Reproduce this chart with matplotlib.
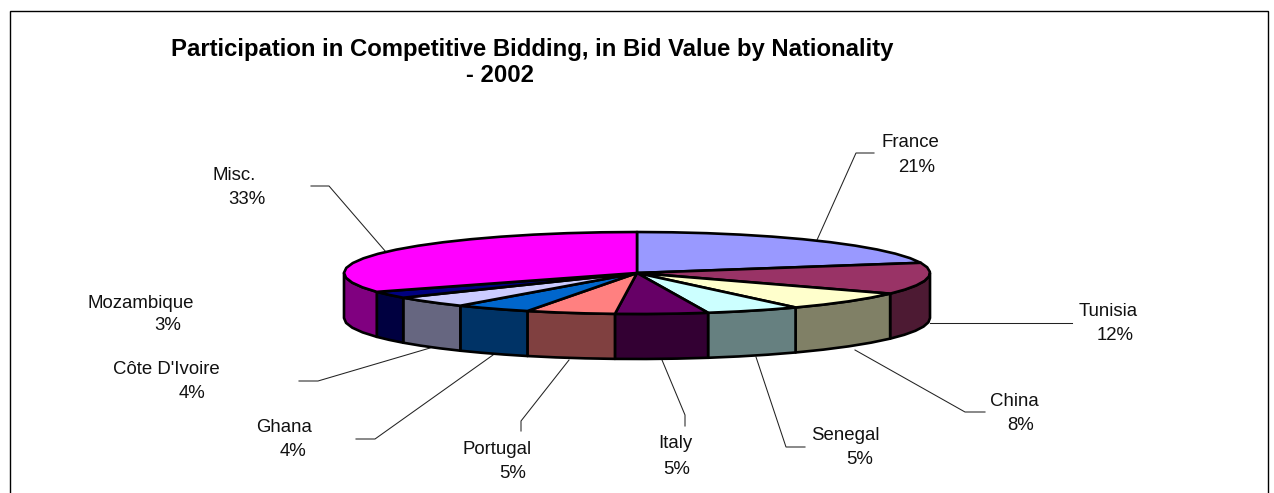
import numpy as np
import matplotlib
matplotlib.use('Agg')
import matplotlib.pyplot as plt
from matplotlib.patches import Polygon, Rectangle

plt.rcParams['font.family'] = ['Liberation Sans', 'DejaVu Sans']

categories = ['France', 'Tunisia', 'China', 'Senegal', 'Italy', 'Portugal', 'Ghana',
              "Côte D'Ivoire", 'Mozambique', 'Misc.']
shares = [21.0, 12.4, 7.5, 5.2, 5.1, 4.9, 4.2, 4.4, 2.7, 32.6]
top_colors = ['#9999FF', '#993366', '#FFFFCC', '#CCFFFF', '#660066', '#FF8080', '#0066CC',
              '#CCCCFF', '#000080', '#FF00FF']
side_colors = ['#4D4D80', '#4D1A33', '#808066', '#668080', '#330033', '#804040', '#003366',
               '#666680', '#000040', '#800080']

# label centres, pixels
name_pos = [(910, 140.5), (1108, 309), (1014, 399), (845, 433), (675, 442), (497.5, 447),
            (284, 426), (166, 367), (141, 301), (234.5, 173)]
pct_pos = [(917, 165), (1115, 334), (1021, 424), (860, 458), (677, 467), (513, 472),
           (293, 449), (192, 392), (168, 324), (247, 198)]
leaders = [[(874, 153), (856, 153), (817, 240)],
           [(1072, 323), (930, 323)],
           [(985, 412), (965, 412), (855, 350)],
           [(805, 447), (786, 447), (756, 357)],
           [(685, 426), (685, 415), (662, 360)],
           [(521, 431), (521, 421), (569, 360)],
           [(356, 439), (375, 439), (493, 355)],
           [(299, 381), (318, 381), (430, 348)],
           [(311, 186), (329, 186), (386, 252)]]

cx, cy, rx, ry, depth = 637, 273, 293, 41, 45

fig = plt.figure(figsize=(12.74, 4.93), dpi=100)
ax = fig.add_axes([0, 0, 1, 1])
ax.set_xlim(0, 1274)
ax.set_ylim(493, 0)
ax.axis('off')

ax.add_patch(Rectangle((9.5, 10.5), 1258, 500, fc='white', ec='black', lw=1.0, zorder=0))

for pts in leaders:
    xs, ys = zip(*pts)
    ax.plot(xs, ys, color='#222222', lw=0.75, zorder=1)


def rim(a, b):
    # the original rim is a rough polygon, so not too many vertices
    n = max(2, int((b - a) / 7) + 2)
    t = np.radians(np.linspace(a, b, n))
    return np.column_stack([cx + rx * np.sin(t), cy - ry * np.cos(t)])


edges = np.concatenate([[0], np.cumsum(shares)]) * 360.0 / sum(shares)

# sides of the front half
for i in range(len(shares)):
    a, b = max(edges[i], 90), min(edges[i + 1], 270)
    if a >= b:
        continue
    arc = rim(a, b)
    low = arc[::-1] + [0, depth]
    ax.add_patch(Polygon(np.vstack([arc, low]), fc=side_colors[i], ec='black', lw=1.9,
                         joinstyle='round', zorder=2))

# top faces
for i in range(len(shares)):
    arc = rim(edges[i], edges[i + 1])
    ax.add_patch(Polygon(np.vstack([[cx, cy], arc]), fc=top_colors[i], ec='black', lw=1.9,
                         joinstyle='round', zorder=3))

for name, pct, np_, pp in zip(categories, shares, name_pos, pct_pos):
    ax.text(np_[0], np_[1] + 6.5, name, fontsize=13.4, ha='center', va='baseline',
            color='#111111', zorder=4)
    ax.text(pp[0], pp[1] + 6.5, f'{pct:.0f}%', fontsize=13.4, ha='center', va='baseline',
            color='#111111', zorder=4)

ax.text(532, 56, 'Participation in Competitive Bidding, in Bid Value by Nationality',
        fontsize=17.2, fontweight='bold', ha='center', va='baseline')
ax.text(500.5, 82, '- 2002', fontsize=17.2, fontweight='bold', ha='center', va='baseline')

fig.savefig('out.png', dpi=100)
